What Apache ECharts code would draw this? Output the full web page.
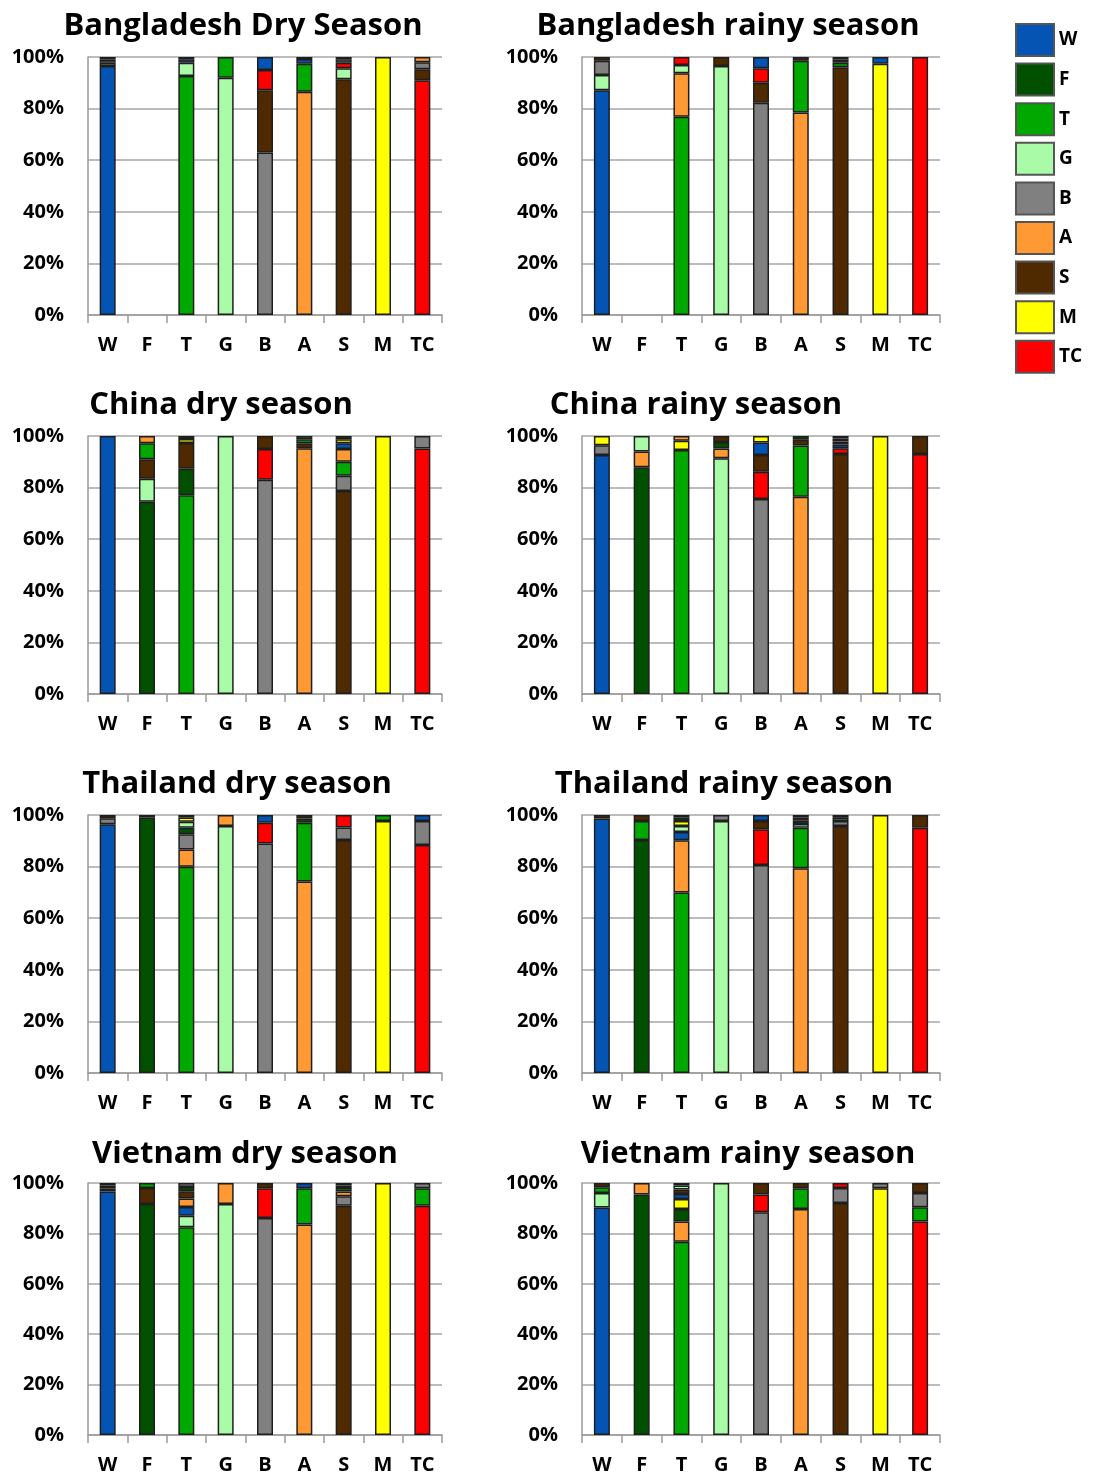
<!DOCTYPE html>
<html><head><meta charset="utf-8">
<script src="https://cdn.jsdelivr.net/npm/echarts@6/dist/echarts.min.js"></script>
<style>html,body{margin:0;padding:0;background:#fff}#c{width:1094px;height:1477px}</style>
</head><body><div id="c"></div>
<script>
// Categories (bars) and series (stack components) share the same codes
const categories = ['W', 'F', 'T', 'G', 'B', 'A', 'S', 'M', 'TC'];
const seriesNames = ['W', 'F', 'T', 'G', 'B', 'A', 'S', 'M', 'TC'];
const seriesColors = ['#0455B3', '#005000', '#00A800', '#A9FBA8', '#808080', '#FF9933', '#4F2A00', '#FFFF00', '#FF0000'];
const yTickValues = [0, 20, 40, 60, 80, 100];

// Each row = one bar (W..TC); columns = share (%) of W,F,T,G,B,A,S,M,TC
const bangladeshDry = [
  [96.5, 0, 0, 1.3, 1.2, 0, 1.0, 0, 0],
  [0, 0, 0, 0, 0, 0, 0, 0, 0],
  [1.3, 0, 92.6, 5.2, 0, 0, 0.9, 0, 0],
  [0, 0, 8, 92, 0, 0, 0, 0, 0],
  [5, 0, 0, 0, 63, 0, 24.1, 0, 7.9],
  [1.8, 0, 10.9, 0, 0, 86.5, 0.8, 0, 0],
  [0, 0.9, 0, 4.2, 1.3, 0, 91.4, 0, 2.2],
  [0, 0, 0, 0, 0, 0, 0, 100, 0],
  [0, 0, 0, 0, 2.7, 2.0, 4.3, 0, 91]
];
const bangladeshRainy = [
  [87.1, 0, 0, 5.9, 5.5, 0, 1.5, 0, 0],
  [0, 0, 0, 0, 0, 0, 0, 0, 0],
  [0, 0, 76.8, 3.2, 0, 16.9, 0, 0, 3.1],
  [0, 0, 0, 96.5, 0, 0, 3.5, 0, 0],
  [4.4, 0, 0, 0, 82.3, 0, 7.7, 0, 5.6],
  [0, 0, 20, 0, 0, 78.5, 1.5, 0, 0],
  [0, 1.2, 1.8, 0, 0, 1.0, 96, 0, 0],
  [2.6, 0, 0, 0, 0, 0, 0, 97.4, 0],
  [0, 0, 0, 0, 0, 0, 0, 0, 100]
];
const chinaDry = [
  [100, 0, 0, 0, 0, 0, 0, 0, 0],
  [0, 74.5, 6.2, 8.9, 0, 2.8, 7.6, 0, 0],
  [0, 10.3, 77, 0, 1.2, 0, 10.0, 1.5, 0],
  [0, 0, 0, 100, 0, 0, 0, 0, 0],
  [0, 0, 0, 0, 83, 0, 5, 0, 12],
  [0, 0, 1.5, 0, 1.3, 95.3, 1.9, 0, 0],
  [2.2, 1.3, 5.4, 0, 5.9, 5.0, 78.7, 1.5, 0],
  [0, 0, 0, 0, 0, 0, 0, 100, 0],
  [0, 0, 0, 0, 4.8, 0, 0, 0, 95.2]
];
const chinaRainy = [
  [92.6, 0, 0, 0, 3.8, 0, 0, 3.6, 0],
  [0, 87.9, 0, 6.0, 0, 6.1, 0, 0, 0],
  [0, 0, 94.6, 0, 0, 1.8, 0, 3.6, 0],
  [0, 2.5, 0, 91.4, 0, 3.8, 2.3, 0, 0],
  [4.9, 0, 0, 0, 75.6, 0, 6.5, 2.5, 10.5],
  [0, 1.5, 19.8, 0, 0, 76.5, 2.2, 0, 0],
  [1.4, 1.0, 0, 0, 1.2, 1.1, 93, 0, 2.3],
  [0, 0, 0, 0, 0, 0, 0, 100, 0],
  [0, 0, 0, 0, 0, 0, 7, 0, 93]
];
const thailandDry = [
  [96.4, 0, 0, 0, 2.3, 0, 1.3, 0, 0],
  [0, 99, 0, 0, 0, 0, 1, 0, 0],
  [0, 2.6, 79.9, 2.3, 5.9, 6.7, 1.0, 1.6, 0],
  [0, 0, 0, 95.7, 0, 4.3, 0, 0, 0],
  [3, 0, 0, 0, 89, 0, 0, 0, 8],
  [0, 1.6, 22.8, 0, 0, 74.2, 1.4, 0, 0],
  [0, 0, 0, 0, 4.9, 0, 90.3, 0, 4.8],
  [0, 0, 2.3, 0, 0, 0, 0, 97.7, 0],
  [2.3, 0, 0, 0, 9.3, 0, 0, 0, 88.4]
];
const thailandRainy = [
  [98.6, 0, 0, 0, 0, 0, 1.4, 0, 0],
  [0, 90.3, 7.4, 0, 0, 0, 2.3, 0, 0],
  [3.2, 1.3, 70, 2.3, 0, 20.2, 1.0, 2.0, 0],
  [0, 0, 0, 97.7, 2.3, 0, 0, 0, 0],
  [2.3, 0, 0, 0, 80.6, 0, 3.2, 0, 13.9],
  [1.3, 1.0, 15.7, 1.4, 0, 79.4, 1.2, 0, 0],
  [0, 1.1, 0, 1.2, 2.0, 0, 95.7, 0, 0],
  [0, 0, 0, 0, 0, 0, 0, 100, 0],
  [0, 0, 0, 0, 0, 0, 4.9, 0, 95.1]
];
const vietnamDry = [
  [96.6, 1.2, 0, 0, 0, 1.05, 1.15, 0, 0],
  [0, 91.7, 2, 0, 0, 0, 6.3, 0, 0],
  [3.5, 1.7, 82.4, 4.6, 1.6, 3.3, 2.9, 0, 0],
  [0, 0, 0, 91.7, 0, 8.3, 0, 0, 0],
  [0, 0, 0, 0, 86.1, 0, 2.1, 0, 11.8],
  [2.1, 0, 14.4, 0, 0, 83.5, 0, 0, 0],
  [0, 1.0, 1.4, 0, 3.7, 1.9, 91, 0, 1.0],
  [0, 0, 0, 0, 0, 0, 0, 100, 0],
  [0, 0, 6.9, 0, 2.1, 0, 0, 0, 91]
];
const vietnamRainy = [
  [90.3, 0, 2.3, 5.7, 0, 0, 1.7, 0, 0],
  [0, 95.4, 0, 0, 0, 4.6, 0, 0, 0],
  [1.9, 5, 76.7, 1.6, 1.0, 8, 1.8, 4, 0],
  [0, 0, 0, 100, 0, 0, 0, 0, 0],
  [0, 0, 0, 0, 88.4, 0, 4.6, 0, 7],
  [0, 0, 8.2, 0, 0, 89.7, 2.1, 0, 0],
  [0, 0, 0, 0, 5.9, 0, 92.1, 0, 2.0],
  [0, 0, 0, 0, 2.1, 0, 0, 97.9, 0],
  [0, 0, 5.7, 0, 5.6, 0, 4, 0, 84.7]
];

const panelData = [bangladeshDry, bangladeshRainy, chinaDry, chinaRainy, thailandDry, thailandRainy, vietnamDry, vietnamRainy];
const panelTitles = ['Bangladesh Dry Season', 'Bangladesh rainy season', 'China dry season', 'China rainy season',
  'Thailand dry season', 'Thailand rainy season', 'Vietnam dry season', 'Vietnam rainy season'];

// layout
const colLeft = [88, 582];
const colWidth = [354, 358];
const rowTopBottom = [[57, 315], [436, 694], [815, 1073], [1183, 1435]];
const titleOffset = [51, 51, 51, 49];
const titleCenterX = [238, 723, 216, 691, 232, 719, 240, 743];

const FONT = 'Open Sans';
const grids = [], xAxes = [], yAxes = [], titles = [], series = [];

panelData.forEach((rows, p) => {
  const col = p % 2, row = Math.floor(p / 2);
  const [top, bottom] = rowTopBottom[row];
  grids.push({ left: colLeft[col], top: top, width: colWidth[col], height: bottom - top, containLabel: false });
  xAxes.push({
    type: 'category', gridIndex: p, data: categories,
    axisLine: { lineStyle: { color: '#9a9a9a', width: 1.5 } },
    axisTick: { show: true, interval: 0, length: 8, lineStyle: { color: '#9a9a9a', width: 1.5 } },
    axisLabel: { interval: 0, margin: 20, color: '#000', fontFamily: FONT, fontWeight: 'bold', fontSize: 20 }
  });
  yAxes.push({
    type: 'value', gridIndex: p, min: 0, max: 100, interval: 20,
    axisLine: { show: true, lineStyle: { color: '#9a9a9a', width: 1.5 } },
    axisTick: { show: false },
    splitLine: { lineStyle: { color: '#a6a6a6', width: 1.5 } },
    axisLabel: { formatter: '{value}%', margin: 24, color: '#000', fontFamily: FONT, fontWeight: 'bold', fontSize: 20 }
  });
  titles.push({
    text: panelTitles[p], left: titleCenterX[p], textAlign: 'center', top: top - titleOffset[row],
    textStyle: { fontFamily: FONT, fontWeight: 'bold', fontSize: 31, color: '#000' }
  });
  // per bar: components sorted by size, largest at the bottom
  const orders = rows.map(vals => vals.map((v, i) => ({ v, i })).filter(o => o.v > 0)
    .sort((a, b) => b.v - a.v || a.i - b.i));
  for (let r = 0; r < seriesNames.length; r++) {
    series.push({
      type: 'bar', name: 'rank' + r, stack: 'p' + p, xAxisIndex: p, yAxisIndex: p,
      barWidth: 16, silent: true,
      itemStyle: { borderColor: '#1e1e1e', borderWidth: 1.5 },
      data: orders.map(ord => ord[r] ? { value: ord[r].v, itemStyle: { color: seriesColors[ord[r].i] } } : '-')
    });
  }
});

// legend entries (no data drawn)
seriesNames.forEach((n, i) => {
  series.push({ type: 'bar', name: n, stack: 'p0', xAxisIndex: 0, yAxisIndex: 0, barWidth: 16, data: [],
    itemStyle: { color: seriesColors[i], borderColor: '#555', borderWidth: 1.5 } });
});

const chart = echarts.init(document.getElementById('c'), null, { renderer: 'canvas' });
chart.setOption({
  animation: false,
  backgroundColor: '#fff',
  title: titles,
  grid: grids,
  xAxis: xAxes,
  yAxis: yAxes,
  legend: {
    data: seriesNames, orient: 'vertical', left: 1015, top: 23, padding: 0,
    itemWidth: 38, itemHeight: 32, itemGap: 5.6, icon: 'rect', selectedMode: false,
    textStyle: { fontFamily: FONT, fontWeight: 'bold', fontSize: 19, color: '#000' }
  },
  series: series
});
</script></body></html>
